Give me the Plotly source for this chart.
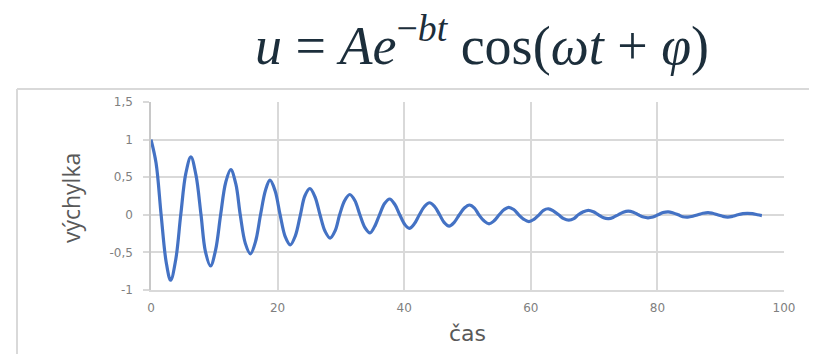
import plotly.graph_objects as go

# --- data (points every eighth of a swing of the damped oscillation) ---
cas = [0.0, 0.8, 1.6, 2.4, 3.1, 3.9, 4.7, 5.5, 6.3, 7.1, 7.9, 8.6, 9.4, 10.2, 11.0, 11.8,
       12.6, 13.4, 14.1, 14.9, 15.7, 16.5, 17.3, 18.1, 18.8, 19.6, 20.4, 21.2, 22.0, 22.8,
       23.6, 24.3, 25.1, 25.9, 26.7, 27.5, 28.3, 29.1, 29.8, 30.6, 31.4, 32.2, 33.0, 33.8,
       34.6, 35.3, 36.1, 36.9, 37.7, 38.5, 39.3, 40.1, 40.8, 41.6, 42.4, 43.2, 44.0, 44.8,
       45.6, 46.3, 47.1, 47.9, 48.7, 49.5, 50.3, 51.1, 51.8, 52.6, 53.4, 54.2, 55.0, 55.8,
       56.5, 57.3, 58.1, 58.9, 59.7, 60.5, 61.3, 62.0, 62.8, 63.6, 64.4, 65.2, 66.0, 66.8,
       67.5, 68.3, 69.1, 69.9, 70.7, 71.5, 72.3, 73.0, 73.8, 74.6, 75.4, 76.2, 77.0, 77.8,
       78.5, 79.3, 80.1, 80.9, 81.7, 82.5, 83.3, 84.0, 84.8, 85.6, 86.4, 87.2, 88.0, 88.7,
       89.5, 90.3, 91.1, 91.9, 92.7, 93.5, 94.2, 95.0, 95.8, 96.5]
vychylka = [1.00, 0.69, 0.0, -0.63, -0.87, -0.60, 0.0, 0.55, 0.77, 0.53, 0.0, -0.49,
            -0.68, -0.47, 0.0, 0.43, 0.60, 0.41, 0.0, -0.38, -0.52, -0.36, 0.0, 0.33,
            0.46, 0.32, 0.0, -0.29, -0.40, -0.28, 0.0, 0.25, 0.35, 0.24, 0.0, -0.22,
            -0.31, -0.21, 0.0, 0.19, 0.27, 0.19, 0.0, -0.17, -0.24, -0.16, 0.0, 0.15,
            0.21, 0.14, 0.0, -0.13, -0.18, -0.12, 0.0, 0.11, 0.16, 0.11, 0.0, -0.10,
            -0.15, -0.10, 0.0, 0.09, 0.13, 0.09, 0.0, -0.08, -0.12, -0.08, 0.0, 0.07,
            0.10, 0.07, 0.0, -0.06, -0.09, -0.06, 0.0, 0.06, 0.08, 0.05, 0.0, -0.05,
            -0.07, -0.05, 0.0, 0.04, 0.06, 0.04, 0.0, -0.04, -0.05, -0.035, 0.0, 0.035,
            0.05, 0.035, 0.0, -0.03, -0.04, -0.03, 0.0, 0.03, 0.04, 0.025, 0.0, -0.025,
            -0.03, -0.02, 0.0, 0.02, 0.03, 0.02, 0.0, -0.02, -0.03, -0.02, 0.0, 0.015,
            0.02, 0.015, 0.0, -0.01]

x_ticks = [0, 20, 40, 60, 80, 100]
y_ticks = [-1, -0.5, 0, 0.5, 1, 1.5]
y_tick_labels = ["-1", "-0,5", "0", "0,5", "1", "1,5"]

GRID = "#d9d9d9"
TICKFONT = dict(family="DejaVu Sans", size=12, color="#7f7f7f")

fig = go.Figure()
fig.add_trace(go.Scatter(
    x=cas, y=vychylka, mode="lines",
    line=dict(color="#4472c4", width=3.2, shape="spline", smoothing=1),
    hoverinfo="skip", showlegend=False,
))

fig.update_layout(
    width=809, height=346,
    margin=dict(l=143, r=33, t=94, b=64),
    paper_bgcolor="white", plot_bgcolor="white",
    xaxis=dict(
        range=[0, 100], tickvals=x_ticks, ticktext=[str(v) for v in x_ticks],
        showgrid=True, gridcolor=GRID, gridwidth=1.5,
        showline=True, linecolor=GRID, linewidth=1.5,
        zeroline=False, ticks="", tickfont=TICKFONT, ticklabelstandoff=6,
        fixedrange=True,
    ),
    yaxis=dict(
        range=[-1, 1.5], tickvals=y_ticks, ticktext=y_tick_labels,
        showgrid=True, gridcolor=GRID, gridwidth=1.5,
        showline=True, linecolor="#c8c8c8", linewidth=1.5,
        zeroline=False, ticks="outside", ticklen=6, tickcolor=GRID, tickwidth=1.5,
        tickfont=TICKFONT, ticklabelstandoff=8,
        fixedrange=True,
    ),
    annotations=[
        dict(text="<i>u</i> = <i>Ae</i><sup>−<i>bt</i></sup> cos(<i>ωt</i> + <i>φ</i>)",
             xref="paper", yref="paper", x=0.523, y=1.32, xanchor="center", yanchor="middle",
             showarrow=False, font=dict(family="Liberation Serif", size=54, color="#1c2e3b")),
        dict(text="výchylka", xref="paper", yref="paper", x=-0.1264, y=0.489,
             xanchor="center", yanchor="middle", textangle=-90, showarrow=False,
             font=dict(family="Open Sans", size=23, color="#595959")),
        dict(text="čas", xref="paper", yref="paper", x=0.5, y=-0.229,
             xanchor="center", yanchor="middle", showarrow=False,
             font=dict(family="DejaVu Sans", size=22, color="#595959")),
    ],
    shapes=[
        dict(type="line", xref="paper", yref="paper", x0=-0.2117, x1=1.06, y0=1.069, y1=1.069,
             line=dict(color=GRID, width=2)),
        dict(type="line", xref="paper", yref="paper", x0=-0.2117, x1=-0.2117, y0=1.069, y1=-0.36,
             line=dict(color=GRID, width=2)),
    ],
)

fig.write_html("out.html")
